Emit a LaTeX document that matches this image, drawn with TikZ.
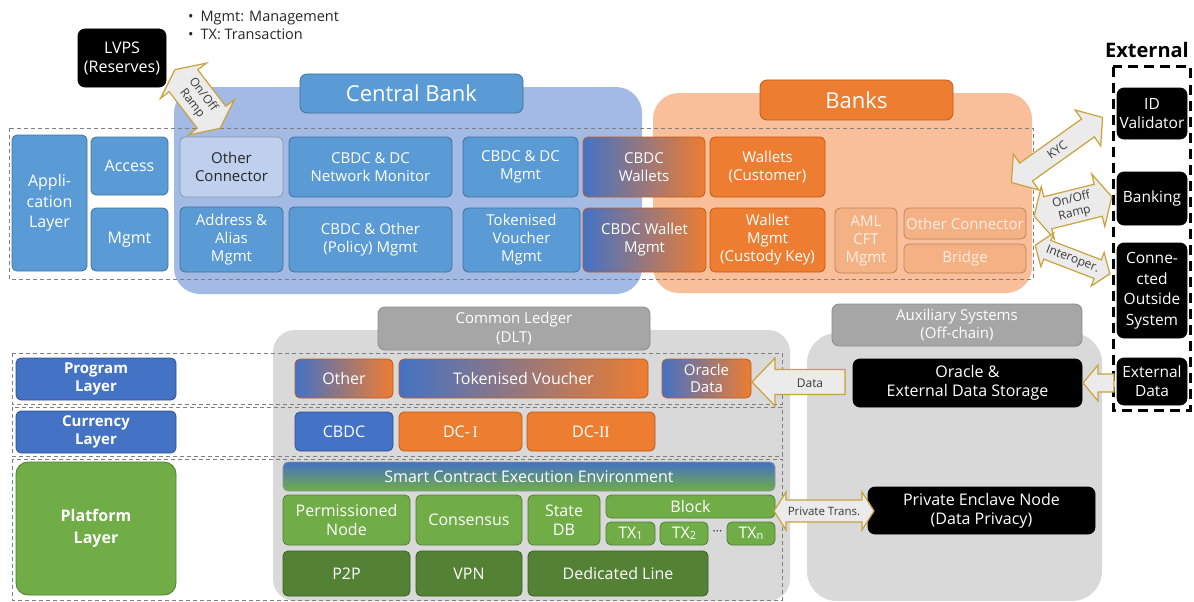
\documentclass[tikz,border=0pt]{standalone}
\usepackage{fontspec}
\setmainfont{Open Sans}
\newfontfamily\romfont{Liberation Serif}
\definecolor{cbblue}{HTML}{5B9BD5}
\definecolor{cbedge}{HTML}{41719C}
\definecolor{cbbg}{HTML}{A2BAE4}
\definecolor{cblight}{HTML}{BFD0EE}
\definecolor{grayedge}{HTML}{8A96A8}
\definecolor{txtdark}{HTML}{262626}
\definecolor{orng}{HTML}{ED7D31}
\definecolor{orngedge}{HTML}{C55A11}
\definecolor{orngbg}{HTML}{F8BF9A}
\definecolor{orngl}{HTML}{F4B183}
\definecolor{orngledge}{HTML}{BE835C}
\definecolor{orngtxt}{HTML}{FDEEE4}
\definecolor{blue2}{HTML}{4472C4}
\definecolor{blue2edge}{HTML}{2F528F}
\definecolor{green1}{HTML}{70AD47}
\definecolor{green1edge}{HTML}{507E32}
\definecolor{green2}{HTML}{548235}
\definecolor{green2edge}{HTML}{3B5E25}
\definecolor{lgray}{HTML}{D9D9D9}
\definecolor{mgray}{HTML}{A6A6A6}
\definecolor{mgrayedge}{HTML}{8C8C8C}
\definecolor{dashgray}{HTML}{7F7F7F}
\definecolor{arrfill}{HTML}{EBEBEB}
\definecolor{arredge}{HTML}{C9A23A}
\definecolor{arrtxt}{HTML}{3A3A3A}
\newcommand\fs[2]{\fontsize{#1}{#2}\selectfont}
% box: name, x1, y1, x2, y2, style, text
\newcommand\bx[7]{\node[#6, minimum width={(#4)-(#2)}, minimum height={(#5)-(#3)}] (#1) at ({((#2)+(#4))/2},{((#3)+(#5))/2}) {#7};}
% double block arrow: name, cx, cy, angle, length, shaft half, head half, head length, text
\newcommand\dblarr[9]{%
  \begin{scope}[shift={(#2,#3)}, rotate=#4]
    \draw[arrowst] ({-(#5)/2},0) -- ({-(#5)/2+(#8)},{#7}) -- ({-(#5)/2+(#8)},{#6}) -- ({(#5)/2-(#8)},{#6}) -- ({(#5)/2-(#8)},{#7}) -- ({(#5)/2},0) -- ({(#5)/2-(#8)},{-(#7)}) -- ({(#5)/2-(#8)},{-(#6)}) -- ({-(#5)/2+(#8)},{-(#6)}) -- ({-(#5)/2+(#8)},{-(#7)}) -- cycle;
    \coordinate (#1-a) at ({-(#5)/2},0);
    \coordinate (#1-b) at ({(#5)/2},0);
  \end{scope}
  \node[arrtext, rotate=#4] (#1) at (#2,#3) {#9};}
% single block arrow (tip at +x before rotation): name, cx, cy, angle, length, shaft half, head half, head length
\newcommand\sglarr[8]{%
  \begin{scope}[shift={(#2,#3)}, rotate=#4]
    \draw[arrowst] ({-(#5)/2},{#6}) -- ({(#5)/2-(#8)},{#6}) -- ({(#5)/2-(#8)},{#7}) -- ({(#5)/2},0) -- ({(#5)/2-(#8)},{-(#7)}) -- ({(#5)/2-(#8)},{-(#6)}) -- ({-(#5)/2},{-(#6)}) -- cycle;
    \coordinate (#1-tail) at ({-(#5)/2},0);
    \coordinate (#1-tip) at ({(#5)/2},0);
  \end{scope}}
\begin{document}
\begin{tikzpicture}[x=1pt,y=-1pt,
  base/.style={rounded corners=5pt, line width=0.8pt, align=center, inner sep=0pt, text=white, font=\fs{15}{18}},
  cb/.style={base, fill=cbblue, draw=cbedge},
  cbl/.style={base, fill=cblight, draw=grayedge, text=txtdark},
  og/.style={base, fill=orng, draw=orngedge},
  ogl/.style={base, fill=orngl, draw=orngledge, text=orngtxt},
  grad/.style={base, left color=blue2, right color=orng, draw=orngedge},
  blk/.style={base, fill=black, draw=black, rounded corners=7pt, font=\fs{16}{19}},
  lay/.style={base, fill=blue2, draw=blue2edge, font=\bfseries\fs{15}{17.5}},
  gr1/.style={base, fill=green1, draw=green1edge, font=\fs{16}{19}},
  gr2/.style={base, fill=green2, draw=green2edge, font=\fs{16}{19}},
  gtitle/.style={base, fill=mgray, draw=mgrayedge, rounded corners=7pt, font=\fs{15}{18.5}},
  dsh/.style={draw=dashgray, dash pattern=on 4pt off 3pt, line width=0.9pt},
  arrowst/.style={fill=arrfill, draw=arredge, line width=1.2pt, line join=miter},
  arrtext/.style={align=center, inner sep=0pt, text=arrtxt, font=\fs{12}{14}}
]
\useasboundingbox (0,0) rectangle (1194,602);

% ---------- notes ----------
\node[anchor=west, align=left, text=txtdark, font=\fs{14.5}{18}, inner sep=0pt] (notes) at (188,25)
  {\textbullet\hspace{7pt}Mgmt: Management\\\textbullet\hspace{7pt}TX: Transaction};

% ---------- backgrounds ----------
\fill[cbbg, rounded corners=26pt] (174,87) rectangle (642,294);
\fill[orngbg, rounded corners=26pt] (653,93) rectangle (1032,293);
\fill[lgray, rounded corners=22pt] (273,330) rectangle (790,601);
\fill[lgray, rounded corners=30pt] (807,333) rectangle (1102,601);

\bx{cbt}{300}{74}{523}{113}{cb, rounded corners=7pt, font=\fs{22}{24}}{Central Bank}
\bx{bkt}{760}{80}{953}{120}{og, rounded corners=7pt, font=\fs{22}{24}}{Banks}
\bx{clt}{378}{307}{650}{350}{gtitle}{Common Ledger\\(DLT)}
\bx{axt}{832}{304}{1082}{346}{gtitle}{Auxiliary Systems\\(Off-chain)}

% ---------- dashed layer frames ----------
\draw[dsh] (9,128) rectangle (1033,279);
\draw[dsh] (12,353) rectangle (782,404);
\draw[dsh] (12,407) rectangle (782,456);
\draw[dsh] (12,459) rectangle (782,600);

% ---------- LVPS ----------
\bx{lvps}{78}{29}{166}{87}{blk}{LVPS\\(Reserves)}

% ---------- application layer ----------
\bx{app}{12}{135}{87}{271}{cb, font=\fs{16}{20.5}}{Appli-\\cation\\Layer}
\bx{access}{91}{137}{168}{195}{cb, font=\fs{16}{19}}{Access}
\bx{mgmt}{91}{208}{168}{271}{cb, font=\fs{16}{19}}{Mgmt}
\bx{ocon}{180}{137}{283}{197}{cbl}{Other\\Connector}
\bx{netmon}{289}{137}{452}{197}{cb}{CBDC \& DC\\Network Monitor}
\bx{dcmgmt}{463}{137}{578}{197}{cb}{CBDC \& DC\\Mgmt}
\bx{cbwal}{583}{137}{705}{197}{grad}{CBDC\\Wallets}
\bx{walcus}{710}{137}{825}{197}{og}{Wallets\\(Customer)}
\bx{addr}{180}{207}{283}{272}{cb}{Address \&\\Alias\\Mgmt}
\bx{policy}{289}{207}{452}{272}{cb}{CBDC \& Other\\(Policy) Mgmt}
\bx{tvmgmt}{463}{208}{580}{272}{cb}{Tokenised\\Voucher\\Mgmt}
\bx{cbwmgmt}{583}{208}{706}{272}{grad}{CBDC Wallet\\Mgmt}
\bx{walmgmt}{710}{208}{825}{272}{og}{Wallet\\Mgmt\\(Custody Key)}
\bx{aml}{835}{208}{897}{273}{ogl}{AML\\CFT\\Mgmt}
\bx{ocon2}{904}{208}{1026}{239}{ogl}{Other Connector}
\bx{bridge}{904}{244}{1026}{273}{ogl}{Bridge}

% ---------- external ----------
\node[font=\bfseries\fs{20}{22}, text=black, inner sep=0pt] (exttitle) at (1147,50) {External};
\draw[black, line width=3pt, dash pattern=on 10pt off 6pt] (1113,67) rectangle (1190.5,410);
\bx{idval}{1117}{88}{1187}{139}{blk, font=\fs{15.5}{19}}{ID\\Validator}
\bx{banking}{1117}{172}{1187}{225}{blk, font=\fs{15.5}{19}}{Banking}
\bx{conn}{1117}{243}{1187}{338}{blk, font=\fs{15.5}{20.5}}{Conne-\\cted\\Outside\\System}
\bx{extd}{1117}{358}{1187}{405}{blk, font=\fs{15.5}{19}}{External\\Data}

% ---------- layer labels ----------
\bx{progL}{16}{358}{176}{400}{lay}{Program\\Layer}
\bx{curL}{16}{411}{176}{453}{lay}{Currency\\Layer}
\bx{platL}{16}{462}{176}{595}{base, fill=green1, draw=green1edge, rounded corners=12pt, font=\bfseries\fs{16}{22}}{Platform\\Layer}

% ---------- common ledger ----------
\bx{other}{295}{359}{393}{398}{grad, font=\fs{16}{19}}{Other}
\bx{tokv}{399}{359}{648}{398}{grad, font=\fs{16}{19}}{Tokenised Voucher}
\bx{orad}{662}{359}{751}{398}{grad, font=\fs{15}{17.5}}{Oracle\\Data}
\bx{cbdc}{295}{412}{393}{451}{base, fill=blue2, draw=blue2edge, font=\fs{16}{19}}{CBDC}
\bx{dc1}{399}{412}{522}{451}{og, font=\fs{16}{19}}{DC-\,{\romfont I}}
\bx{dc2}{527}{412}{655}{451}{og, font=\fs{16}{19}}{DC-{\romfont II}}
\bx{smart}{283}{462}{775}{491}{base, top color=blue2, bottom color=green1, draw=grayedge, font=\fs{16}{19}}{Smart Contract Execution Environment}
\bx{perm}{283}{495}{410}{545}{gr1}{Permissioned\\Node}
\bx{cons}{416}{495}{522}{545}{gr1}{Consensus}
\bx{sdb}{528}{495}{600}{545}{gr1}{State\\DB}
\bx{block}{606}{495}{775}{518}{gr1}{Block}
\bx{tx1}{606}{522}{655}{545}{gr1}{TX\raisebox{-1.5pt}{\fs{11}{11}1}}
\bx{tx2}{660}{522}{708}{545}{gr1}{TX\raisebox{-1.5pt}{\fs{11}{11}2}}
\node[text=txtdark, font=\fs{12}{12}, inner sep=0pt] (dots) at (717.5,533) {···};
\bx{txn}{727}{522}{775}{545}{gr1}{TX\raisebox{-1.5pt}{\fs{11}{11}n}}
\bx{p2p}{283}{551}{410}{596}{gr2}{P2P}
\bx{vpn}{416}{551}{522}{596}{gr2}{VPN}
\bx{dedl}{528}{551}{708}{596}{gr2}{Dedicated Line}

% ---------- auxiliary ----------
\bx{orst}{853}{359}{1082}{407}{blk}{Oracle \&\\External Data Storage}
\bx{encl}{868}{487}{1095}{534}{blk}{Private Enclave Node\\(Data Privacy)}

% ---------- block arrows ----------
\dblarr{ramp1}{197.5}{99}{-52.5}{74}{18}{29}{14}{On/Off\\Ramp}
\dblarr{kyc}{1057}{150}{35.5}{112}{11}{22}{18}{KYC}
\dblarr{ramp2}{1073}{206.5}{14}{80}{16.5}{27}{14}{On/Off\\Ramp}
\dblarr{interop}{1072.5}{259.5}{-21}{80}{10}{18}{13}{Interoper.}
\dblarr{ptrans}{824}{511}{0}{100}{11}{19}{12}{\fs{11.5}{13}Private Trans.}
\sglarr{data}{798.5}{382}{180}{93}{12.5}{24}{23}
\node[arrtext] (datat) at (810,383) {Data};
\sglarr{extarr}{1098.5}{383}{180}{31}{9}{18}{15}

\end{tikzpicture}
\end{document}
